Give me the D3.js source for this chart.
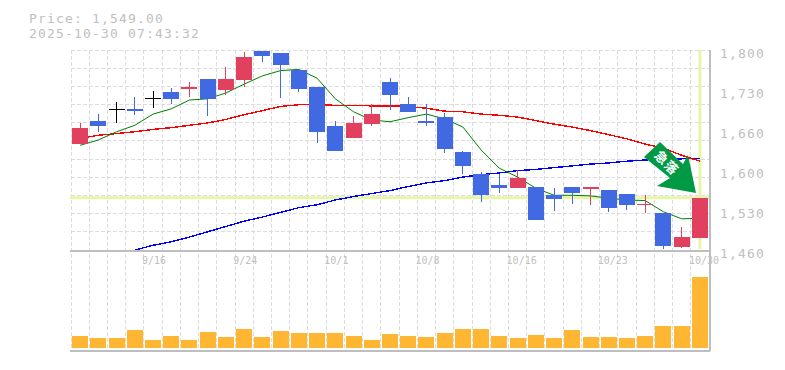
<!DOCTYPE html>
<html lang="en">
<head>
<meta charset="utf-8">
<title>Price chart</title>
<script src="https://d3js.org/d3.v7.min.js"></script>
<style>
    html, body { margin: 0; padding: 0; background: #fff; }
    svg { display: block; }
    text { font-family: "DejaVu Sans Mono", monospace; fill: #c0c0c0; }
    .big { font-size: 13px; letter-spacing: 1.17px; }
    .grid line { stroke: #dcdcdc; stroke-dasharray: 4,2; shape-rendering: crispEdges; }
    .frame { stroke: #bebebe; stroke-width: 2; shape-rendering: crispEdges; }
    .ma { fill: none; }
</style>
</head>
<body>
<svg id="chart" width="785" height="370"></svg>
<script>
// trading days
const dates = ["9/10","9/11","9/12","9/15","9/16","9/17","9/18","9/19","9/22","9/24",
    "9/25","9/26","9/29","9/30","10/1","10/2","10/3","10/6","10/7","10/8",
    "10/9","10/10","10/14","10/15","10/16","10/17","10/20","10/21","10/22","10/23",
    "10/24","10/27","10/28","10/29","10/30"];
const dateTicks = ["9/16","9/24","10/1","10/8","10/16","10/23","10/30"];

// prices
const opens = [1640,1679,1700,1700,1718,1729,1734,1751,1732,1749,
    1798,1795,1766,1737,1671,1651,1675,1746,1708,1679,
    1686,1627,1589,1570,1566,1567,1553,1567,1564,1562,
    1555,1538,1523,1465,1481];
const closes = [1667,1671,1700,1696,1718,1717,1737,1717,1751,1788,
    1790,1775,1734,1661,1629,1676,1691,1724,1695,1676,
    1632,1602,1554,1566,1582,1511,1547,1557,1567,1531,
    1536,1539,1467,1482,1549];
const highs = [1676,1691,1712,1720,1730,1735,1746,1751,1771,1797,
    1798,1795,1766,1737,1679,1688,1708,1752,1720,1708,
    1693,1628,1593,1589,1596,1567,1565,1567,1567,1562,
    1555,1553,1523,1499,1549];
const lows = [1640,1661,1676,1690,1701,1708,1720,1688,1724,1737,
    1780,1718,1729,1642,1629,1651,1671,1698,1695,1671,
    1625,1589,1542,1557,1565,1511,1527,1538,1537,1525,
    1528,1523,1462,1463,1481];

// moving averages
const ma5 = [1638,1647,1661,1672,1691,1700,1715,1717,1727,1742,
    1756,1765,1767,1752,1717,1695,1681,1678,1685,1691,
    1683,1669,1630,1599,1584,1565,1553,1553,1552,1548,
    1545,1544,1525,1513,1514];
const ma25 = [1650,1655,1658,1661,1665,1668,1672,1676,1682,1690,
    1697,1704,1707,1707,1706,1706,1705,1705,1704,1701,
    1696,1695,1691,1689,1686,1680,1674,1669,1663,1656,
    1649,1640,1633,1621,1611];
const ma75 = [null,null,null,1460,1468,1474,1482,1491,1500,1509,
    1516,1524,1532,1537,1545,1551,1556,1561,1568,1574,
    1578,1584,1588,1591,1595,1597,1600,1603,1606,1608,
    1611,1613,1615,1615,1616];

const volume = [120,100,100,180,80,120,80,160,110,190,
    110,170,150,150,150,120,80,140,120,110,
    150,190,190,120,100,130,100,180,110,110,
    100,120,220,220,710];

const lastPrice = 1549;
const yTicks = [1800,1732,1664,1596,1528,1460];

const red = "#e1415f", blue = "#4169e1", black = "#000", orange = "#ffb733", mark = "#e6f5a8";

const svg = d3.select("#chart");
const paneLeft = 71, paneRight = 709, paneTop = 50, paneBottom = 250;
const volTop = 272, volBottom = 348, frameBottom = 350.5;

const x = d3.scaleBand().domain(dates).range([paneLeft, paneRight]);
const y = d3.scaleLinear().domain([1460, 1800]).range([paneBottom, paneTop]);
const yVol = d3.scaleLinear().domain([0, 760]).range([volBottom, volTop]);
const cx = d => x(d) + x.bandwidth() / 2;

// clip for lines running off the price pane
svg.append("clipPath").attr("id", "pane").append("rect")
    .attr("x", paneLeft).attr("y", paneTop).attr("width", paneRight - paneLeft).attr("height", paneBottom - paneTop);

// grid
let gridX = svg.append("g").attr("class", "grid");
gridX.selectAll("line").data(dates).enter().append("line")
    .attr("x1", d => x(d)).attr("x2", d => x(d))
    .attr("y1", paneTop).attr("y2", frameBottom);
let gridY = svg.append("g").attr("class", "grid");
gridY.selectAll("line").data(d3.range(0, 11)).enter().append("line")
    .attr("x1", paneLeft).attr("x2", paneRight)
    .attr("y1", d => y(1800 - d * 340 / 11)).attr("y2", d => y(1800 - d * 340 / 11));

// current price marks
svg.append("line").attr("x1", paneLeft - 1).attr("x2", paneRight)
    .attr("y1", y(lastPrice)).attr("y2", y(lastPrice))
    .attr("stroke", mark).attr("stroke-width", 3);
svg.append("line").attr("x1", cx("10/30")).attr("x2", cx("10/30"))
    .attr("y1", paneTop).attr("y2", paneBottom - 1)
    .attr("stroke", mark).attr("stroke-width", 3);

// moving averages
let line = d3.line()
    .defined(d => d != null)
    .x((d, i) => cx(dates[i]))
    .y(d => y(d));
let lines = svg.append("g").attr("clip-path", "url(#pane)");
[[ma75, "#0000ff"], [ma25, "#ff0000"], [ma5, "#008000"]].forEach(s => {
    lines.append("path").attr("class", "ma")
        .attr("d", line(s[0]))
        .attr("stroke", s[1])
        .attr("stroke-width", s[1] == "#008000" ? 1 : 1.4)
        .attr("shape-rendering", s[1] == "#008000" ? "auto" : "crispEdges");
});

// candles
const candleColor = i => closes[i] == opens[i] ? black : (closes[i] > opens[i] ? red : blue);
let candles = svg.append("g").attr("shape-rendering", "crispEdges");
candles.selectAll("line").data(dates).enter().append("line")
    .attr("x1", d => cx(d)).attr("x2", d => cx(d))
    .attr("y1", (d, i) => y(highs[i])).attr("y2", (d, i) => y(lows[i]))
    .attr("stroke", (d, i) => candleColor(i))
    .attr("stroke-width", 1);
candles.selectAll("rect").data(dates).enter().append("rect")
    .attr("x", d => cx(d) - 8)
    .attr("width", 16)
    .attr("y", (d, i) => y(Math.max(opens[i], closes[i])))
    .attr("height", (d, i) => Math.max(1, Math.abs(y(opens[i]) - y(closes[i]))))
    .attr("fill", (d, i) => candleColor(i));

// volume
svg.append("g").attr("shape-rendering", "crispEdges").selectAll("rect").data(dates).enter().append("rect")
    .attr("x", d => cx(d) - 8)
    .attr("width", 16)
    .attr("y", (d, i) => yVol(volume[i]))
    .attr("height", (d, i) => volBottom - yVol(volume[i]))
    .attr("fill", orange);

// frame
svg.append("line").attr("class", "frame").attr("x1", paneLeft - 1).attr("x2", paneRight + 1).attr("y1", paneBottom + 0.5).attr("y2", paneBottom + 0.5);
svg.append("line").attr("class", "frame").attr("x1", paneLeft - 1).attr("x2", paneRight + 1).attr("y1", frameBottom).attr("y2", frameBottom);
svg.append("line").attr("class", "frame").attr("x1", paneRight + 1).attr("x2", paneRight + 1).attr("y1", paneTop).attr("y2", frameBottom);

// axes
let yAxis = d3.axisRight(y).tickValues(yTicks).tickSize(0)
    .tickFormat(d => d3.format(",")(Math.round(d / 10) * 10));
let yg = svg.append("g").attr("transform", `translate(${paneRight + 11},3)`).call(yAxis);
yg.select(".domain").remove();
yg.selectAll("text").attr("x", 0).attr("class", "big");

let xAxis = d3.axisBottom(x).tickValues(dateTicks).tickSize(0);
let xg = svg.append("g").attr("transform", `translate(0,${paneBottom + 7})`).call(xAxis);
xg.select(".domain").remove();
xg.selectAll("text").attr("text-anchor", "start").attr("dx", -11).attr("y", 0).style("font-size", "10px");

// header
svg.append("text").attr("class", "big").attr("x", 29).attr("y", 22.5).text("Price: 1,549.00");
svg.append("text").attr("class", "big").attr("x", 29).attr("y", 37.7).text("2025-10-30 07:43:32");

// arrow sign
let sign = svg.append("g");
sign.append("path")
    .attr("d", "M660,142 L644,157 L670,178 L657,186 L696,193 L688,155 L683,164 Z")
    .attr("fill", "#009944");
sign.append("text")
    .attr("transform", "translate(666.5,163) rotate(45)")
    .attr("text-anchor", "middle").attr("dy", 4.5)
    .style("font-family", "'Noto Sans CJK JP'").style("font-weight", "700")
    .style("font-size", "13px").style("letter-spacing", "1px").style("fill", "#fff")
    .text("急落");
</script>
</body>
</html>
